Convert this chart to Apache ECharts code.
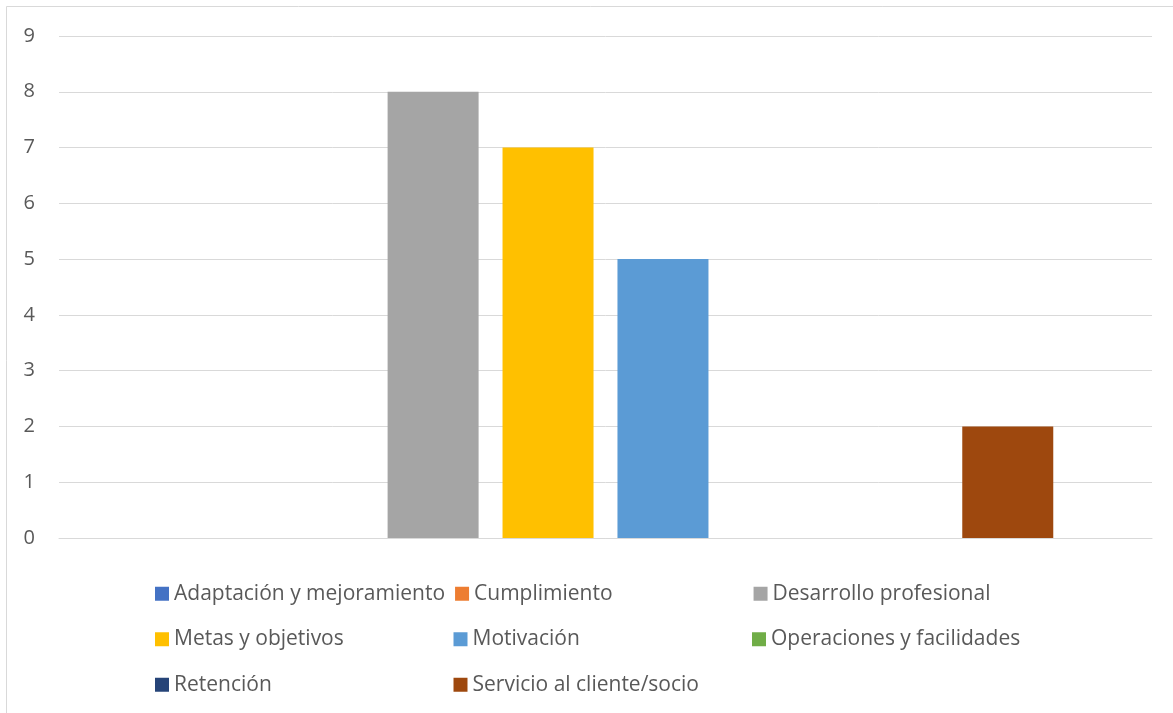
<!DOCTYPE html>
<html>
<head>
<meta charset="utf-8">
<title>Resultados por categoría</title>
<script src="https://cdn.jsdelivr.net/npm/echarts@6/dist/echarts.min.js"></script>
<style>
  html, body { margin: 0; padding: 0; background: #ffffff; }
  #chart { width: 1173px; height: 713px; }
</style>
</head>
<body>
<div id="chart"></div>
<script>
// Single category, one series per theme
const categories = [''];
const seriesNames = [
  'Adaptación y mejoramiento',
  'Cumplimiento',
  'Desarrollo profesional',
  'Metas y objetivos',
  'Motivación',
  'Operaciones y facilidades',
  'Retención',
  'Servicio al cliente/socio'
];
const seriesValues = [0, 0, 8, 7, 5, 0, 0, 2];
const seriesColors = ['#4472C4', '#ED7D31', '#A5A5A5', '#FFC000', '#5B9BD5', '#70AD47', '#264478', '#9E480E'];
const yTicks = { min: 0, max: 9, interval: 1 };

const chart = echarts.init(document.getElementById('chart'), null, { renderer: 'canvas' });

const series = seriesNames.map((name, i) => ({
  name: name,
  type: 'bar',
  data: [seriesValues[i]],
  itemStyle: { color: seriesColors[i] },
  barWidth: 91,
  barGap: '26.3%',
  emphasis: { disabled: true }
}));

chart.setOption({
  animation: false,
  backgroundColor: '#ffffff',
  graphic: [{
    type: 'rect',
    silent: true,
    shape: { x: 6.5, y: 6.5, width: 1300, height: 1000 },
    style: { fill: 'none', stroke: '#d9d9d9', lineWidth: 1 }
  }],
  grid: { left: 59, right: 21, top: 36, bottom: 175, containLabel: false },
  xAxis: {
    type: 'category',
    data: categories,
    axisLine: { show: true, lineStyle: { color: '#d9d9d9', width: 1 } },
    axisTick: { show: false },
    axisLabel: { show: false }
  },
  yAxis: {
    type: 'value',
    min: yTicks.min,
    max: yTicks.max,
    interval: yTicks.interval,
    axisLine: { show: false },
    axisTick: { show: false },
    axisLabel: { color: '#595959', fontSize: 20, fontFamily: 'Open Sans', margin: 24 },
    splitLine: { lineStyle: { color: '#d9d9d9', width: 1 } }
  },
  legend: {
    data: seriesNames,
    orient: 'horizontal',
    left: 155,
    top: 576,
    width: 920,
    padding: 0,
    itemWidth: 14,
    itemHeight: 14,
    itemGap: 10,
    icon: 'rect',
    selectedMode: false,
    textStyle: {
      color: '#595959',
      fontSize: 21,
      fontFamily: 'Open Sans',
      width: 269.5,
      lineHeight: 35.5
    }
  },
  series: series
});
</script>
</body>
</html>
